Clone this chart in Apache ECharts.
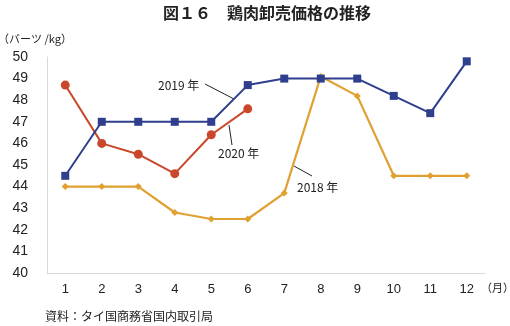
<!DOCTYPE html>
<html>
<head>
<meta charset="utf-8">
<script src="https://cdn.jsdelivr.net/npm/echarts@6/dist/echarts.min.js"></script>
<style>
  html, body { margin: 0; padding: 0; background: #fff; }
  #chart { width: 510px; height: 326px; }
</style>
</head>
<body>
<div id="chart"></div>
<script>
// Monthly wholesale chicken price (baht/kg)
const months = ['1', '2', '3', '4', '5', '6', '7', '8', '9', '10', '11', '12'];
const price2018 = [44.0, 44.0, 44.0, 42.8, 42.5, 42.5, 43.7, 49.1, 48.2, 44.5, 44.5, 44.5];
const price2019 = [44.5, 47.0, 47.0, 47.0, 47.0, 48.7, 49.0, 49.0, 49.0, 48.2, 47.4, 49.8];
const price2020 = [48.7, 46.0, 45.5, 44.6, 46.4, 47.6];
const yTicks = { min: 40, max: 50, step: 1 };

const fontJP = '"Noto Sans CJK JP", "Liberation Sans", sans-serif';
const fontNum = '"Liberation Sans", Arial, sans-serif';

const chart = echarts.init(document.getElementById('chart'));

chart.setOption({
  animation: false,
  backgroundColor: '#fff',
  title: {
    text: '図１６　鶏肉卸売価格の推移',
    left: 262, textAlign: 'center', top: 0,
    textStyle: { fontFamily: fontJP, fontSize: 16, fontWeight: 'bold', color: '#222' }
  },
  grid: { left: 47, right: 25, top: 57, bottom: 53 },
  xAxis: {
    type: 'category',
    data: months,
    boundaryGap: true,
    axisLine: { lineStyle: { color: '#d9d9d9', width: 1 } },
    axisTick: { show: false },
    axisLabel: { fontFamily: fontNum, fontSize: 13, color: '#222', margin: 10 }
  },
  yAxis: {
    type: 'value',
    min: yTicks.min, max: yTicks.max, interval: yTicks.step,
    axisLine: { show: true, lineStyle: { color: '#d9d9d9', width: 1 } },
    axisTick: { show: false },
    splitLine: { show: false },
    axisLabel: { fontFamily: fontNum, fontSize: 14, color: '#222', margin: 19 }
  },
  series: [
    {
      name: '2018',
      type: 'line',
      data: price2018,
      symbol: 'diamond', symbolSize: 7,
      lineStyle: { color: '#e0a032', width: 2.2 },
      itemStyle: { color: '#e0a032' },
      z: 2
    },
    {
      name: '2020',
      type: 'line',
      data: price2020,
      symbol: 'circle', symbolSize: 9,
      lineStyle: { color: '#c9472b', width: 2 },
      itemStyle: { color: '#c9472b' },
      z: 3
    },
    {
      name: '2019',
      type: 'line',
      data: price2019,
      symbol: 'rect', symbolSize: 8,
      lineStyle: { color: '#2f3f8e', width: 2 },
      itemStyle: { color: '#2f3f8e' },
      z: 4
    }
  ],
  graphic: [
    { type: 'text', left: -2, top: 33,
      style: { text: '（バーツ /kg）', fontFamily: fontJP, fontSize: 11, fill: '#222' } },
    { type: 'text', left: 481, top: 282,
      style: { text: '（月）', fontFamily: fontJP, fontSize: 11, fill: '#222' } },
    { type: 'text', left: 45, top: 310,
      style: { text: '資料：タイ国商務省国内取引局', fontFamily: fontJP, fontSize: 12, fill: '#222' } },
    // series labels with leader lines
    { type: 'text', left: 158, top: 79,
      style: { text: '2019 年', fontFamily: fontJP, fontSize: 12, fill: '#222' } },
    { type: 'line', shape: { x1: 205, y1: 84, x2: 234, y2: 99 },
      style: { stroke: '#222', lineWidth: 1 } },
    { type: 'text', left: 218, top: 147,
      style: { text: '2020 年', fontFamily: fontJP, fontSize: 12, fill: '#222' } },
    { type: 'line', shape: { x1: 229, y1: 125, x2: 232, y2: 145 },
      style: { stroke: '#222', lineWidth: 1 } },
    { type: 'text', left: 297, top: 181,
      style: { text: '2018 年', fontFamily: fontJP, fontSize: 12, fill: '#222' } },
    { type: 'line', shape: { x1: 294, y1: 166, x2: 312, y2: 176 },
      style: { stroke: '#222', lineWidth: 1 } }
  ]
});
</script>
</body>
</html>
